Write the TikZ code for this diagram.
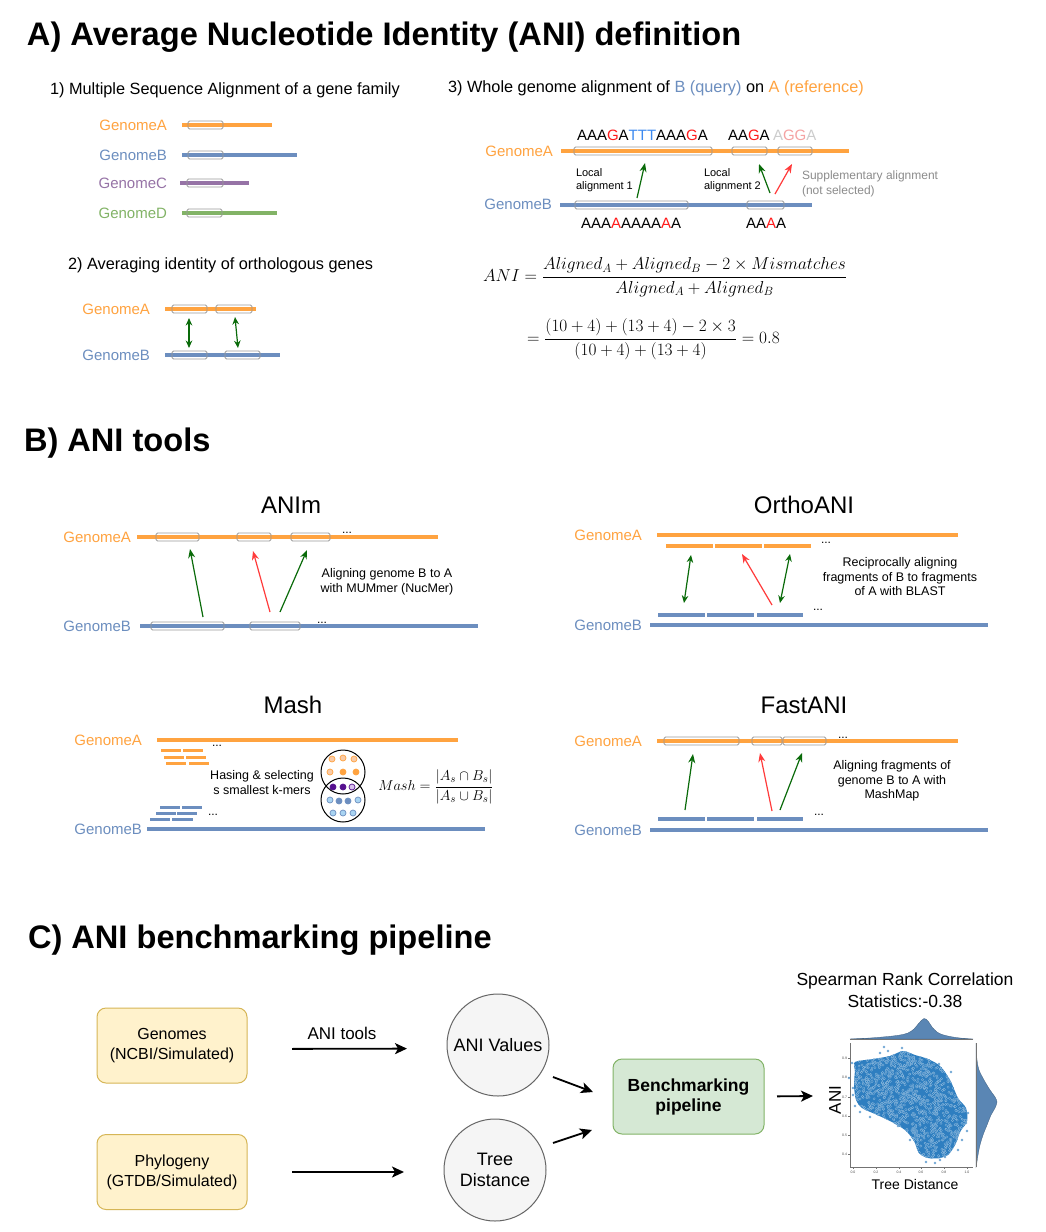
\documentclass[tikz,border=0pt]{standalone}
\usepackage[no-math]{fontspec}
\setmainfont{Liberation Sans}
\usepackage{amsmath}
\usetikzlibrary{arrows.meta}
\definecolor{orA}{HTML}{FFA340}
\definecolor{blB}{HTML}{6C8EBF}
\definecolor{puC}{HTML}{9673A6}
\definecolor{grD}{HTML}{82B366}
\definecolor{agreen}{HTML}{0A6B0A}
\definecolor{ared}{HTML}{FF3B3B}
\definecolor{boxgray}{HTML}{9A9A9A}
\definecolor{seqred}{HTML}{FF1A1A}
\definecolor{seqblue}{HTML}{3D8AF0}
\definecolor{ltgray}{HTML}{CCCCCC}
\definecolor{ltred}{HTML}{F5A3A3}
\definecolor{suppgray}{HTML}{8C8C8C}
\definecolor{yfill}{HTML}{FFF2CC}
\definecolor{ydraw}{HTML}{D6B656}
\definecolor{gfill}{HTML}{D5E8D4}
\definecolor{gdraw}{HTML}{82B366}
\definecolor{cfill}{HTML}{F5F5F5}
\definecolor{cdraw}{HTML}{666666}
\definecolor{scblue}{HTML}{2E7EC0}
\definecolor{histblue}{HTML}{5A86B4}
\definecolor{lorange}{HTML}{F9CBA8}
\definecolor{dpurple}{HTML}{55108F}
\definecolor{lpurple}{HTML}{D9C2EE}
\definecolor{lblue}{HTML}{A9D4F2}
\begin{document}
\begin{tikzpicture}[x=1pt,y=-1pt,
  every node/.style={inner sep=0pt, outer sep=0pt},
  title/.style={font=\fontsize{32.6}{38}\selectfont\bfseries, anchor=west},
  sub/.style={font=\fontsize{16.3}{19}\selectfont, anchor=west},
  glab/.style={font=\fontsize{15}{18}\selectfont, anchor=east},
  tooltitle/.style={font=\fontsize{24}{28}\selectfont},
  desc/.style={font=\fontsize{12.5}{14.5}\selectfont, align=center},
  seq/.style={font=\fontsize{15}{18}\selectfont, anchor=west},
  gline/.style={line width=4pt},
  frag/.style={line width=3.5pt},
  sfrag/.style={line width=3pt},
  abox/.style={draw=boxgray, line width=0.9pt, rounded corners=1.5pt},
  dots/.style={font=\fontsize{12}{14}\selectfont},
  garrow/.style={draw=agreen, line width=1.2pt, -{Stealth[length=9pt,width=7pt]}},
  gdbl/.style={draw=agreen, line width=1.2pt, {Stealth[length=7.5pt,width=6.5pt]}-{Stealth[length=7.5pt,width=6.5pt]}},
  rarrow/.style={draw=ared, line width=1.2pt, -{Stealth[length=9pt,width=7pt]}},
  parrow/.style={line width=1.8pt, -{Stealth[length=12pt,width=11pt,inset=3pt]}},
  ybox/.style={draw=ydraw, fill=yfill, line width=1pt, rounded corners=9pt, minimum width=150pt, minimum height=75pt, align=center, font=\fontsize{16}{20}\selectfont},
  cnode/.style={circle, draw=cdraw, fill=cfill, line width=1pt, minimum size=102pt, align=center, font=\fontsize{18}{20.5}\selectfont},
  mdot/.style={line width=0.7pt},
  scdot/.style={fill=scblue, draw=white!55!scblue, line width=0.2pt}
]
\useasboundingbox (0,0) rectangle (1045,1232);
\fill[white] (0,0) rectangle (1045,1232);

%================ A =================
\node[title] (tA) at (27,37) {A) Average Nucleotide Identity (ANI) definition};

% A.1
\node[sub] (s1) at (50,90) {1) Multiple Sequence Alignment of a gene family};
\node[glab, text=orA] (m1a) at (167,125) {GenomeA};
\draw[gline, orA] (182,125) -- (272,125);
\draw[abox] (188,121) rectangle (223,129);
\node[glab, text=blB] (m1b) at (167,155) {GenomeB};
\draw[gline, blB] (182,155) -- (297,155);
\draw[abox] (188,151) rectangle (223,159);
\node[glab, text=puC] (m1c) at (167,183) {GenomeC};
\draw[gline, puC] (180,183) -- (249,183);
\draw[abox] (187,179) rectangle (223,187);
\node[glab, text=grD] (m1d) at (167,213) {GenomeD};
\draw[gline, grD] (182,213) -- (277,213);
\draw[abox] (187,209) rectangle (222,217);

% A.2
\node[sub] (s2) at (68,265) {2) Averaging identity of orthologous genes};
\node[glab, text=orA] (m2a) at (150,309) {GenomeA};
\draw[gline, orA] (165,309) -- (256,309);
\draw[abox] (172,305) rectangle (207,313);
\draw[abox] (216,305) rectangle (252,313);
\node[glab, text=blB] (m2b) at (150,355) {GenomeB};
\draw[gline, blB] (165,355) -- (280,355);
\draw[abox] (172,351) rectangle (207,359);
\draw[abox] (225,351) rectangle (260,359);
\coordinate (o1a) at (189,318); \coordinate (o1b) at (189,348);
\coordinate (o2a) at (235,317); \coordinate (o2b) at (238,348);
\draw[gdbl] (o1a) -- (o1b);
\draw[gdbl] (o2a) -- (o2b);

% A.3
\node[sub] (s3) at (448,88) {3) Whole genome alignment of \textcolor{blB}{B (query)} on \textcolor{orA}{A (reference)}};
\node[seq] (sqa1) at (577,135) {AAA\textcolor{seqred}{G}A\textcolor{seqblue}{TTT}AAA\textcolor{seqred}{G}A};
\node[seq] (sqa2) at (728,135) {AA\textcolor{seqred}{G}A};
\node[seq] (sqa3) at (773,135) {\textcolor{ltgray}{A}\textcolor{ltred}{GG}\textcolor{ltgray}{A}};
\node[glab, text=orA] (w3a) at (553,151) {GenomeA};
\draw[gline, orA] (561,151) -- (849,151);
\draw[abox] (574,147) rectangle (712,155);
\draw[abox] (732,147) rectangle (767,155);
\draw[abox] (778,147) rectangle (812,155);
\node[glab, text=blB] (w3b) at (552,204) {GenomeB};
\draw[gline, blB] (560,205) -- (812,205);
\draw[abox] (575,201) rectangle (688,209);
\draw[abox] (747,201) rectangle (784,209);
\node[seq] (sqb1) at (581,223) {AAA\textcolor{seqred}{A}AAAA\textcolor{seqred}{A}A};
\node[seq] (sqb2) at (746,223) {AA\textcolor{seqred}{A}A};
\node[anchor=west, align=left, font=\fontsize{11}{13}\selectfont] (loc1) at (576,180.5) {Local\\alignment 1};
\node[anchor=west, align=left, font=\fontsize{11}{13}\selectfont] (loc2) at (704,180.5) {Local\\alignment 2};
\node[anchor=west, align=left, text=suppgray, font=\fontsize{12}{15}\selectfont] (supp) at (802,183.5) {Supplementary alignment\\(not selected)};
\coordinate (l1s) at (637,198); \coordinate (l1e) at (645,163);
\coordinate (l2s) at (770,193); \coordinate (l2e) at (759,164);
\coordinate (l3s) at (775,194); \coordinate (l3e) at (792,164);
\draw[garrow] (l1s) -- (l1e);
\draw[garrow] (l2s) -- (l2e);
\draw[rarrow] (l3s) -- (l3e);

\node[anchor=west, font=\fontsize{18}{22}\selectfont] (anif) at (483,277)
  {$ANI=\dfrac{Aligned_A+Aligned_B-2\times Mismatches}{Aligned_A+Aligned_B}$};
\node[anchor=west, font=\fontsize{18}{22}\selectfont] (anic) at (527,339)
  {$=\dfrac{(10+4)+(13+4)-2\times 3}{(10+4)+(13+4)}=0.8$};

%================ B =================
\node[title] (tB) at (24,443) {B) ANI tools};

% ANIm
\node[tooltitle] (tanim) at (291,505) {ANIm};
\node[glab, text=orA] (n1a) at (131,537) {GenomeA};
\draw[gline, orA] (137,537) -- (438,537);
\draw[abox] (156,533) rectangle (199,541);
\draw[abox] (237,533) rectangle (271,541);
\draw[abox] (291,533) rectangle (330,541);
\node[dots] (n1d1) at (347,533) {...};
\node[glab, text=blB] (n1b) at (131,626) {GenomeB};
\draw[gline, blB] (140,626) -- (478,626);
\draw[abox] (151,622) rectangle (224,630);
\draw[abox] (250,622) rectangle (300,630);
\node[dots] (n1d2) at (322,623) {...};
\coordinate (n1s1) at (203,617); \coordinate (n1e1) at (190,549);
\coordinate (n1s2) at (270,612); \coordinate (n1e2) at (253,551);
\coordinate (n1s3) at (280,612); \coordinate (n1e3) at (307,550);
\draw[garrow] (n1s1) -- (n1e1);
\draw[rarrow] (n1s2) -- (n1e2);
\draw[garrow] (n1s3) -- (n1e3);
\node[desc] (n1t) at (387,582) {Aligning genome B to A\\with MUMmer (NucMer)};

% OrthoANI
\node[tooltitle] (tortho) at (804,505) {OrthoANI};
\node[glab, text=orA] (n2a) at (642,535) {GenomeA};
\draw[gline, orA] (657,535) -- (958,535);
\draw[frag, orA] (666,546) -- (713,546);
\draw[frag, orA] (715,546) -- (762,546);
\draw[frag, orA] (764,546) -- (811,546);
\node[dots] (n2d1) at (826,543) {...};
\node[glab, text=blB] (n2b) at (642,625) {GenomeB};
\draw[gline, blB] (650,625) -- (988,625);
\draw[frag, blB] (658,615) -- (705,615);
\draw[frag, blB] (707,615) -- (754,615);
\draw[frag, blB] (757,615) -- (803,615);
\node[dots] (n2d2) at (818,610) {...};
\coordinate (n2s1) at (691,555); \coordinate (n2e1) at (684,603);
\coordinate (n2s2) at (772,605); \coordinate (n2e2) at (742,554);
\coordinate (n2s3) at (790,554); \coordinate (n2e3) at (780,603);
\draw[gdbl] (n2s1) -- (n2e1);
\draw[rarrow] (n2s2) -- (n2e2);
\draw[gdbl] (n2s3) -- (n2e3);
\node[desc] (n2t) at (900,577) {Reciprocally aligning\\fragments of B to fragments\\of A with BLAST};

% Mash
\node[tooltitle] (tmash) at (293,705) {Mash};
\node[glab, text=orA] (n3a) at (142,740) {GenomeA};
\draw[gline, orA] (157,740) -- (458,740);
\draw[sfrag, orA] (161,750) -- (181,750);
\draw[sfrag, orA] (183,750) -- (203,750);
\draw[sfrag, orA] (164,757) -- (184,757);
\draw[sfrag, orA] (186,757) -- (206,757);
\draw[sfrag, orA] (166,763) -- (186,763);
\draw[sfrag, orA] (189,763) -- (209,763);
\node[dots] (n3d1) at (217,746) {...};
\draw[sfrag, blB] (160,807) -- (180,807);
\draw[sfrag, blB] (182,807) -- (202,807);
\draw[sfrag, blB] (156,813) -- (176,813);
\draw[sfrag, blB] (177,813) -- (197,813);
\draw[sfrag, blB] (150,819) -- (170,819);
\draw[sfrag, blB] (172,819) -- (193,819);
\node[dots] (n3d2) at (213,815) {...};
\node[glab, text=blB] (n3b) at (142,829) {GenomeB};
\draw[gline, blB] (147,829) -- (485,829);
\node[desc] (n3t) at (262,782.5) {Hasing \& selecting\\s smallest k-mers};
\draw[line width=1pt] (343,772) circle (22pt);
\draw[line width=1pt] (343,800) circle (22pt);
% dots in circles
\filldraw[mdot, draw=orA, fill=lorange] (332,759) circle (3pt);
\filldraw[mdot, draw=orA, fill=lorange] (343,758) circle (3pt);
\filldraw[mdot, draw=orA, fill=lorange] (354,759) circle (3pt);
\filldraw[mdot, draw=orA, fill=lorange] (330,772) circle (3pt);
\filldraw[mdot, draw=orA, fill=orA] (343,772) circle (3pt);
\filldraw[mdot, draw=orA, fill=orA] (356,772) circle (3pt);
\filldraw[mdot, draw=dpurple, fill=dpurple] (333,787) circle (3pt);
\filldraw[mdot, draw=dpurple, fill=dpurple] (343,787) circle (3pt);
\filldraw[mdot, draw=dpurple, fill=lpurple] (352,787) circle (3pt);
\filldraw[mdot, draw=blB, fill=lblue] (330,800) circle (3pt);
\filldraw[mdot, draw=blB, fill=blB] (339,801) circle (3pt);
\filldraw[mdot, draw=blB, fill=blB] (348,801) circle (3pt);
\filldraw[mdot, draw=blB, fill=lblue] (358,800) circle (3pt);
\filldraw[mdot, draw=blB, fill=lblue] (333,813) circle (3pt);
\filldraw[mdot, draw=blB, fill=lblue] (343,813) circle (3pt);
\filldraw[mdot, draw=blB, fill=lblue] (353,813) circle (3pt);
\node[font=\fontsize{15.5}{18}\selectfont] (mashf) at (436,787) {$Mash=\dfrac{|A_s\cap B_s|}{|A_s\cup B_s|}$};

% FastANI
\node[tooltitle] (tfast) at (804,705) {FastANI};
\node[glab, text=orA] (n4a) at (642,741) {GenomeA};
\draw[gline, orA] (657,741) -- (958,741);
\draw[abox] (664,737) rectangle (739,745);
\draw[abox] (752,737) rectangle (782,745);
\draw[abox] (783,737) rectangle (826,745);
\node[dots] (n4d1) at (843,738) {...};
\node[glab, text=blB] (n4b) at (642,830) {GenomeB};
\draw[gline, blB] (650,830) -- (988,830);
\draw[frag, blB] (658,819) -- (705,819);
\draw[frag, blB] (707,819) -- (754,819);
\draw[frag, blB] (757,819) -- (803,819);
\node[dots] (n4d2) at (819,815) {...};
\coordinate (n4s1) at (685,810); \coordinate (n4e1) at (693,754);
\coordinate (n4s2) at (772,811); \coordinate (n4e2) at (760,753);
\coordinate (n4s3) at (780,810); \coordinate (n4e3) at (802,753);
\draw[garrow] (n4s1) -- (n4e1);
\draw[rarrow] (n4s2) -- (n4e2);
\draw[garrow] (n4s3) -- (n4e3);
\node[desc] (n4t) at (892,781) {Aligning fragments of\\genome B to A with\\MashMap};

%================ C =================
\node[title] (tC) at (28,940) {C) ANI benchmarking pipeline};
\node[ybox] (genomes) at (172,1045.5) {Genomes\\(NCBI/Simulated)};
\node[ybox] (phylo) at (172,1172) {Phylogeny\\(GTDB/Simulated)};
\node[cnode] (anival) at (498,1045) {ANI Values};
\node[cnode] (tree) at (495,1170) {Tree\\Distance};
\node[draw=gdraw, fill=gfill, line width=1pt, rounded corners=9pt, minimum width=151pt, minimum height=75pt, align=center, font=\fontsize{17.5}{20}\selectfont\bfseries] (bench) at (688.5,1096.5) {Benchmarking\\pipeline};
\draw[parrow, shorten <=45pt, shorten >=40pt] ([yshift=-3.5pt]genomes.east) -- ([yshift=-3.5pt]anival.west);
\node[font=\fontsize{17}{20}\selectfont] (anitools) at (342,1033) {ANI tools};
\draw[parrow, shorten <=45pt, shorten >=40pt] (phylo.east) -- (tree.west |- phylo.east);
\coordinate (c1s) at (553,1077); \coordinate (c1e) at (593,1092);
\coordinate (c2s) at (553,1143); \coordinate (c2e) at (592,1130);
\draw[parrow] (c1s) -- (c1e);
\draw[parrow] (c2s) -- (c2e);
\coordinate (plotin) at (813,1096);
\draw[parrow, shorten <=13pt] (bench.east) -- (plotin);
\node[align=center, font=\fontsize{17.5}{22}\selectfont] (spear) at (905,990) {Spearman Rank Correlation\\Statistics:-0.38};

% joint plot
\filldraw[fill=histblue, draw=histblue!70!black, line width=0.3pt] (850,1039) -- plot[smooth] coordinates {(852,1038.8) (860,1038.5) (870,1038) (880,1037.2) (890,1036.3) (900,1035) (908,1033) (914,1029) (919,1023) (924,1018.5) (928,1021) (932,1027) (937,1032) (942,1034.5) (950,1036.5) (960,1038) (970,1038.8)} -- (973,1039) -- cycle;
\filldraw[fill=histblue, draw=histblue!70!black, line width=0.3pt] (976,1043) -- plot[smooth] coordinates {(976.3,1050) (977,1060) (979,1070) (984,1080) (990,1090) (995,1097) (997,1102) (995,1108) (991,1115) (987,1125) (983,1135) (980,1145) (978,1155) (976.5,1165)} -- (976,1167) -- cycle;
\draw[black!55, line width=0.4pt] (850,1039) -- (973,1039);
\draw[black!55, line width=0.4pt] (976,1043) -- (976,1167);
\draw[black!55, line width=0.4pt] (850,1043) -- (850,1167) -- (973,1167);
\foreach \t/\xx in {0.0/853,0.2/876,0.4/899,0.6/921,0.8/944,1.0/967}{
  \draw[black!55, line width=0.3pt] (\xx,1167) -- (\xx,1169);
  \node[font=\fontsize{3.5}{4}\selectfont, text=black!70] at (\xx,1172) {\t};
}
\foreach \t/\yy in {0.9/1058,0.8/1077,0.7/1097,0.6/1116,0.5/1135,0.4/1154}{
  \draw[black!55, line width=0.3pt] (850,\yy) -- (848,\yy);
  \node[font=\fontsize{3.5}{4}\selectfont, text=black!70, anchor=east] at (847,\yy) {\t};
}
\begin{scope}
  \clip plot[smooth cycle] coordinates {(855,1062) (873,1059) (890,1056) (903,1051) (915,1055) (928,1059) (940,1066) (950,1080) (958,1098) (966,1108) (967,1121) (960,1132) (956,1143) (949,1154) (940,1158) (928,1158) (919,1153) (914,1141) (905,1130) (890,1121) (875,1114) (862,1108) (856,1100) (854,1085) (855,1070)};
  \fill[scblue] (840,1040) rectangle (980,1170);
  \pgfmathsetseed{7}
  \foreach \i in {1,...,1800}{
    \pgfmathsetmacro{\rx}{850+120*rnd}
    \pgfmathsetmacro{\ry}{1048+115*rnd}
    \filldraw[scdot] (\rx,\ry) circle (1.2pt);
  }
\end{scope}
\foreach \px/\py in {852/1063,849/1078,884/1047,888/1051,902/1048,939/1064,968/1113,967/1131,958/1150,940/1160,935/1163,926/1162,855/1106,860/1112,870/1117,910/1140,853/1095,966/1123,862/1065,880/1053,945/1157,962/1140,951/1072,898/1126,853/1088}{
  \filldraw[scdot] (\px,\py) circle (1.2pt);
}
\node[rotate=90, font=\fontsize{17}{20}\selectfont] (anilab) at (835,1100) {ANI};
\node[font=\fontsize{14}{17}\selectfont] (treelab) at (915,1184) {Tree Distance};
\end{tikzpicture}
\end{document}
